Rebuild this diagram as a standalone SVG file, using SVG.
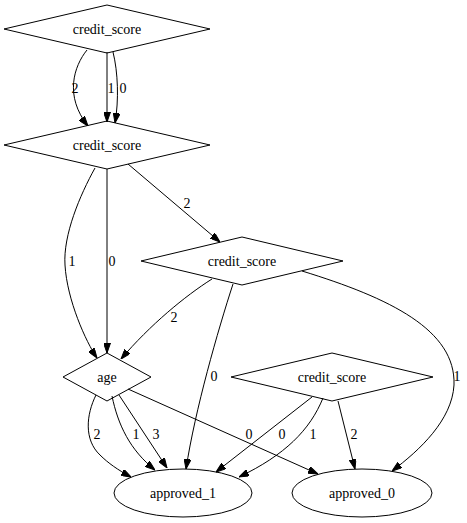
<svg xmlns="http://www.w3.org/2000/svg" width="467" height="523" viewBox="0 0 467 523">
<style>
  .node { fill: none; stroke: #000; stroke-width: 1; }
  .edge { fill: none; stroke: #000; stroke-width: 1; marker-end: url(#arrow); }
  .lbl { font-family: "Liberation Serif", serif; font-size: 14px; fill: #000; text-anchor: middle; }
</style>
<defs>
  <marker id="arrow" viewBox="0 0 10 7" markerWidth="10" markerHeight="7" refX="10" refY="3.5" orient="auto" markerUnits="userSpaceOnUse">
    <path d="M0,0 L10,3.5 L0,7 z" fill="#000" stroke="#000" stroke-width="1"/>
  </marker>
</defs>
<rect width="467" height="523" fill="#fff"/>
<g id="edges">
  <path class="edge" d="M87,50 C74,66 64,96 88,126"/>
  <text class="lbl" x="75" y="93">2</text>
  <path class="edge" d="M107,52 L107,122"/>
  <text class="lbl" x="111" y="93">1</text>
  <path class="edge" d="M113,52 C118,72 119,100 115,123"/>
  <text class="lbl" x="123" y="93">0</text>
  <path class="edge" d="M95,168 C80,195 63,235 65,265 C67,300 86,342 97,358"/>
  <text class="lbl" x="72" y="266">1</text>
  <path class="edge" d="M107,169 L107,353"/>
  <text class="lbl" x="112" y="266">0</text>
  <path class="edge" d="M128,164 L220,242"/>
  <text class="lbl" x="187" y="208">2</text>
  <path class="edge" d="M212,279 C185,296 150,325 121,359"/>
  <text class="lbl" x="174" y="322">2</text>
  <path class="edge" d="M233,284 C218,330 195,410 186,469"/>
  <text class="lbl" x="214" y="381">0</text>
  <path class="edge" d="M302,271 C390,298 456,330 454,385 C452,420 420,450 392,471"/>
  <text class="lbl" x="457" y="381">1</text>
  <path class="edge" d="M96,395 C86,415 84,440 100,455 C108,463 118,470 131,477"/>
  <text class="lbl" x="97" y="439">2</text>
  <path class="edge" d="M112,396 C118,425 130,450 155,470"/>
  <text class="lbl" x="136" y="439">1</text>
  <path class="edge" d="M119,395 L167,468"/>
  <text class="lbl" x="156" y="439">3</text>
  <path class="edge" d="M128,389 L318,474"/>
  <text class="lbl" x="249" y="439">0</text>
  <path class="edge" d="M312,397 L216,472"/>
  <text class="lbl" x="282" y="439">0</text>
  <path class="edge" d="M323,398 C310,430 285,455 239,477"/>
  <text class="lbl" x="313" y="439">1</text>
  <path class="edge" d="M338,401 L355,469"/>
  <text class="lbl" x="354" y="439">2</text>
</g>
<g id="node1">
  <polygon class="node" points="107,5 210,29 107,53 4,29"/>
  <text class="lbl" x="107" y="33.5">credit_score</text>
</g>
<g id="node2">
  <polygon class="node" points="107,121 210,145 107,169 4,145"/>
  <text class="lbl" x="107" y="149.5">credit_score</text>
</g>
<g id="node3">
  <polygon class="node" points="242,237 343,261 242,285 141,261"/>
  <text class="lbl" x="242" y="265.5">credit_score</text>
</g>
<g id="node4">
  <polygon class="node" points="107,353 151,377 107,401 63,377"/>
  <text class="lbl" x="107" y="381.5">age</text>
</g>
<g id="node5">
  <polygon class="node" points="332,353 433,377 332,401 231,377"/>
  <text class="lbl" x="332" y="381.5">credit_score</text>
</g>
<g id="node6">
  <ellipse class="node" cx="183" cy="493" rx="69" ry="24"/>
  <text class="lbl" x="183" y="497.5">approved_1</text>
</g>
<g id="node7">
  <ellipse class="node" cx="362" cy="493" rx="70" ry="24"/>
  <text class="lbl" x="362" y="497.5">approved_0</text>
</g>
</svg>
